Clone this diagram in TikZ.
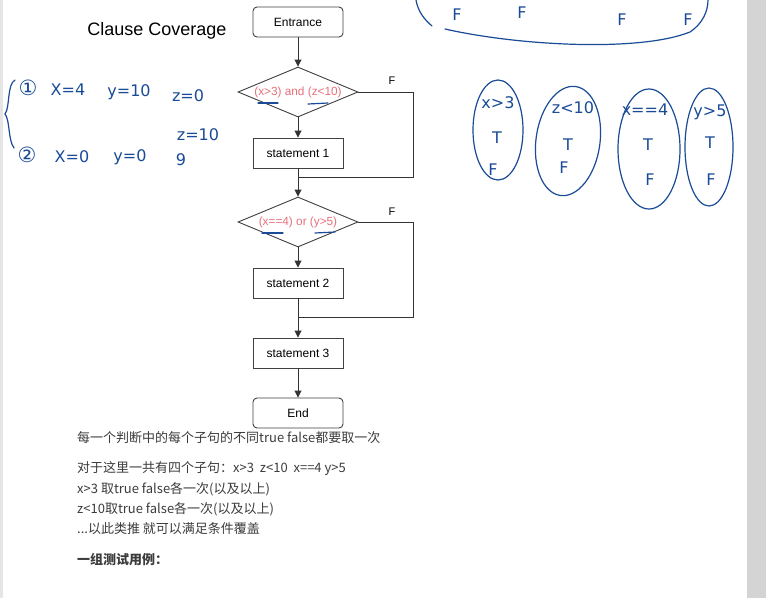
\documentclass[tikz,border=0pt]{standalone}
\usepackage{fontspec}
\setmainfont{Liberation Sans}
\newfontfamily\cjk{Noto Sans CJK SC}
\newfontfamily\hand{DejaVu Sans}
\usetikzlibrary{shapes.geometric,arrows.meta}
\definecolor{handblue}{RGB}{25,75,150}
\definecolor{condred}{RGB}{232,112,122}
\definecolor{txtgrey}{RGB}{60,60,60}
\definecolor{sidegrey}{RGB}{212,212,212}
\tikzset{
  boxnode/.style={draw=black!75, line width=0.9pt, minimum width=90pt, minimum height=30pt, inner sep=0pt, font=\fontsize{12}{14}\selectfont},
  roundbox/.style={boxnode, rounded corners=4pt},
  decision/.style={draw=black!75, line width=0.9pt, diamond, minimum width=120pt, minimum height=50pt, inner sep=0pt},
  condtext/.style={text=condred, font=\fontsize{11.8}{13}\selectfont, inner sep=0pt},
  flowline/.style={draw=black!80, line width=0.9pt},
  arr/.style={flowline, -{Triangle[length=7pt,width=7pt]}},
  flab/.style={font=\fontsize{11}{13}\selectfont, inner sep=0pt},
  note/.style={anchor=west, inner sep=0pt, text=txtgrey, font=\cjk\fontsize{13}{15}\selectfont},
  hw/.style={text=handblue, inner sep=0pt, font=\hand\fontsize{16}{18}\selectfont},
  hwbig/.style={hw, font=\hand\fontsize{21}{22}\selectfont},
  hwline/.style={draw=handblue, line width=1.2pt, line cap=round},
}
\begin{document}
\begin{tikzpicture}[x=1pt,y=-1pt]
\useasboundingbox (0,0) rectangle (766,598);
\fill[white] (0,0) rectangle (766,598);
\fill[sidegrey] (747,0) rectangle (766,598);
\fill[black!10] (0,0) rectangle (3,598);

% title
\node[inner sep=0pt, font=\fontsize{18}{20}\selectfont] (title) at (157,31) {Clause Coverage};

% flowchart
\node[roundbox] (entr) at (298,22) {Entrance};
\node[decision] (d1) at (298,92) {};
\node[condtext] (d1t) at (298,92) {(x>3) and (z<10)};
\node[boxnode] (s1) at (298,153) {statement 1};
\node[decision] (d2) at (298,222) {};
\node[condtext] (d2t) at (298,222) {(x==4) or (y>5)};
\node[boxnode] (s2) at (298,283) {statement 2};
\node[boxnode] (s3) at (298,353) {statement 3};
\node[roundbox] (endn) at (298,413) {End};

\coordinate (j1) at (298,177);
\coordinate (c1) at (413,177);
\coordinate (j2) at (298,317);
\coordinate (c2) at (413,317);

\draw[arr] (entr) -- (d1);
\draw[arr] (d1) -- (s1);
\draw[arr] (s1) -- (d2);
\draw[flowline] (d1.east) -| (c1) -- (j1);
\node[flab] (f1) at (392,81) {F};
\draw[arr] (d2) -- (s2);
\draw[arr] (s2) -- (s3);
\draw[flowline] (d2.east) -| (c2) -- (j2);
\node[flab] (f2) at (392,212) {F};
\draw[arr] (s3) -- (endn);

% handwritten underlines
\coordinate (u1a) at (258,103); \coordinate (u1b) at (278,103);
\coordinate (u2a) at (308,104); \coordinate (u2b) at (328,103);
\coordinate (u3a) at (262,233); \coordinate (u3b) at (283,233);
\coordinate (u4a) at (315,233); \coordinate (u4b) at (335,232);
\draw[hwline] (u1a) -- (u1b);
\draw[hwline] (u2a) -- (u2b);
\draw[hwline] (u3a) -- (u3b);
\draw[hwline] (u4a) -- (u4b);

% handwritten test cases
\coordinate (br1) at (15,80);
\coordinate (br2) at (14,148);
\draw[hwline] (br1) .. controls (7,84) and (10,108) .. (5,114) .. controls (10,120) and (8,140) .. (br2);
\node[hwbig] (c1n) at (28,88) {①};
\node[hw] (a1) at (68,90) {X=4};
\node[hw] (a2) at (129,92) {y=10};
\node[hw] (a3) at (188,96) {z=0};
\node[hwbig] (c2n) at (27,155) {②};
\node[hw] (b1) at (72,157) {X=0};
\node[hw] (b2) at (130,157) {y=0};
\node[hw] (b3) at (198,135) {z=10};
\node[hw] (b4) at (181,160) {9};

% top partial ellipse
\coordinate (e1) at (416,0);
\coordinate (e2) at (432,26);
\coordinate (e3) at (445,29);
\coordinate (e4) at (708,0);
\draw[hwline] (e1) .. controls (418,12) and (425,20) .. (e2);
\draw[hwline] (e3) .. controls (520,46) and (640,52) .. (690,32) .. controls (702,24) and (708,12) .. (e4);
\node[hw] (tf1) at (457,15) {F};
\node[hw] (tf2) at (522,13) {F};
\node[hw] (tf3) at (622,20) {F};
\node[hw] (tf4) at (688,20) {F};

% clause ellipses
\draw[hwline] (498,130) ellipse [x radius=25, y radius=50];
\node[hw] (k1) at (498,103) {x>3};
\node[hw] (k1t) at (497,138) {T};
\node[hw] (k1f) at (493,170) {F};
\draw[hwline, rotate around={-8:(568,141)}] (568,141) ellipse [x radius=32, y radius=55];
\node[hw] (k2) at (573,108) {z<10};
\node[hw] (k2t) at (568,145) {T};
\node[hw] (k2f) at (564,168) {F};
\draw[hwline] (649,149) ellipse [x radius=31, y radius=60];
\node[hw] (k3) at (645,110) {x==4};
\node[hw] (k3t) at (648,145) {T};
\node[hw] (k3f) at (650,180) {F};
\draw[hwline] (709,147) ellipse [x radius=24, y radius=59];
\node[hw] (k4) at (710,112) {y>5};
\node[hw] (k4t) at (710,143) {T};
\node[hw] (k4f) at (711,180) {F};

% notes
\node[note] (n1) at (77,438) {每一个判断中的每个子句的不同true false都要取一次};
\node[note] (n2) at (77,469) {对于这里一共有四个子句：x>3\ \ z<10\ \ x==4 y>5};
\node[note] (n3) at (77,489) {x>3 取true false各一次(以及以上)};
\node[note] (n4) at (77,509) {z<10取true false各一次(以及以上)};
\node[note] (n5) at (77,529) {...以此类推 就可以满足条件覆盖};
\node[note, font=\cjk\bfseries\fontsize{13}{15}\selectfont] (n6) at (77,560) {一组测试用例：};
\end{tikzpicture}
\end{document}
